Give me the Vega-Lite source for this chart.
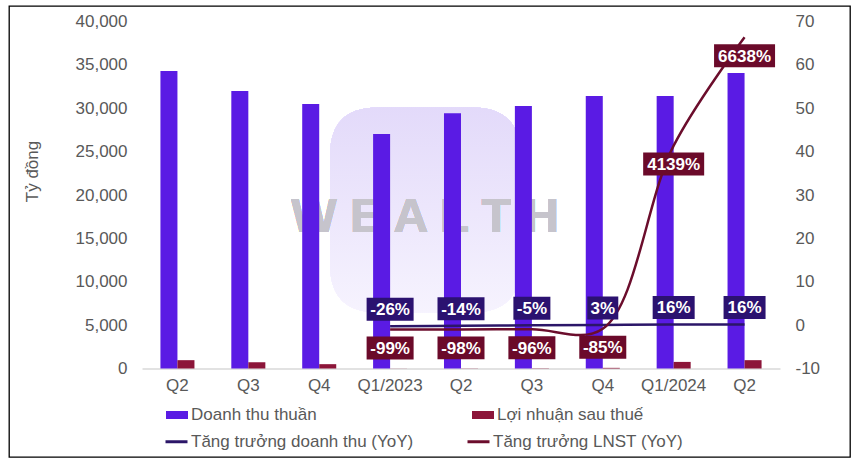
{
  "$schema": "https://vega.github.io/schema/vega-lite/v6.json",
  "width": 841,
  "height": 451,
  "autosize": {"type": "none"},
  "padding": {"left": 9, "top": 6, "right": 12, "bottom": 8},
  "background": "#ffffff",
  "datasets": {
    "bars": [
      {"k": "Q2|2022", "s": "Doanh thu thuần", "v": 34300},
      {"k": "Q2|2022", "s": "Lợi nhuận sau thuế", "v": 960},
      {"k": "Q3|2022", "s": "Doanh thu thuần", "v": 32000},
      {"k": "Q3|2022", "s": "Lợi nhuận sau thuế", "v": 730},
      {"k": "Q4|2022", "s": "Doanh thu thuần", "v": 30500},
      {"k": "Q4|2022", "s": "Lợi nhuận sau thuế", "v": 500},
      {"k": "Q1/2023|", "s": "Doanh thu thuần", "v": 27030},
      {"k": "Q1/2023|", "s": "Lợi nhuận sau thuế", "v": 12},
      {"k": "Q2|2023", "s": "Doanh thu thuần", "v": 29420},
      {"k": "Q2|2023", "s": "Lợi nhuận sau thuế", "v": 20},
      {"k": "Q3|2023", "s": "Doanh thu thuần", "v": 30260},
      {"k": "Q3|2023", "s": "Lợi nhuận sau thuế", "v": 30},
      {"k": "Q4|2023", "s": "Doanh thu thuần", "v": 31420},
      {"k": "Q4|2023", "s": "Lợi nhuận sau thuế", "v": 75},
      {"k": "Q1/2024|", "s": "Doanh thu thuần", "v": 31420},
      {"k": "Q1/2024|", "s": "Lợi nhuận sau thuế", "v": 760},
      {"k": "Q2|2024", "s": "Doanh thu thuần", "v": 34070},
      {"k": "Q2|2024", "s": "Lợi nhuận sau thuế", "v": 960}
    ],
    "growth": [
      {"k": "Q1/2023|", "s": "Tăng trưởng doanh thu (YoY)", "g": -0.26},
      {"k": "Q2|2023", "s": "Tăng trưởng doanh thu (YoY)", "g": -0.14},
      {"k": "Q3|2023", "s": "Tăng trưởng doanh thu (YoY)", "g": -0.05},
      {"k": "Q4|2023", "s": "Tăng trưởng doanh thu (YoY)", "g": 0.03},
      {"k": "Q1/2024|", "s": "Tăng trưởng doanh thu (YoY)", "g": 0.16},
      {"k": "Q2|2024", "s": "Tăng trưởng doanh thu (YoY)", "g": 0.16},
      {"k": "Q1/2023|", "s": "Tăng trưởng LNST (YoY)", "g": -0.99},
      {"k": "Q2|2023", "s": "Tăng trưởng LNST (YoY)", "g": -0.98},
      {"k": "Q3|2023", "s": "Tăng trưởng LNST (YoY)", "g": -0.96},
      {"k": "Q4|2023", "s": "Tăng trưởng LNST (YoY)", "g": -0.85},
      {"k": "Q1/2024|", "s": "Tăng trưởng LNST (YoY)", "g": 41.39},
      {"k": "Q2|2024", "s": "Tăng trưởng LNST (YoY)", "g": 66.38}
    ]
  },
  "encoding": {
    "x": {
      "field": "k",
      "type": "nominal",
      "scale": {
        "type": "band",
        "domain": ["Q2|2022", "Q3|2022", "Q4|2022", "Q1/2023|", "Q2|2023", "Q3|2023", "Q4|2023", "Q1/2024|", "Q2|2024"],
        "range": [133, 771],
        "paddingInner": 0.52,
        "paddingOuter": 0.26
      },
      "axis": {"orient": "bottom", "offset": -88.5, "labelExpr": "split(datum.value,'|')[0]", "title": null, "labelAngle": 0, "labelPadding": 9}
    }
  },
  "layer": [
    {
      "data": {"name": "bars"},
      "layer": [
        {
          "mark": {"type": "point", "filled": true, "opacity": 1, "strokeWidth": 0, "shape": "M-0.5,-1.08H0.5Q1,-1.08 1,-0.58V0.58Q1,1.08 0.5,1.08H-0.5Q-1,1.08 -1,0.58V-0.58Q-1,-1.08 -0.5,-1.08Z", "size": 36100, "xOffset": 35,
            "color": {"gradient": "linear", "x1": 0, "y1": 0, "x2": 0, "y2": 1, "stops": [{"offset": 0, "color": "#E3DAFA"}, {"offset": 1, "color": "#F6F3FE"}]}},
          "encoding": {
            "x": {"datum": "Q1/2023|"},
            "y": {"datum": 18270}
          }
        },
        {
          "mark": {"type": "text", "text": "W E A L T H", "fontSize": 48, "fontWeight": "bold", "color": "#C6C4CC", "opacity": 0.85, "align": "center", "baseline": "middle", "xOffset": 35},
          "encoding": {
            "x": {"datum": "Q1/2023|"},
            "y": {"datum": 17400}
          }
        },
        {
          "mark": {"type": "bar"},
          "encoding": {
            "xOffset": {"field": "s", "type": "nominal", "scale": {"domain": ["Doanh thu thuần", "Lợi nhuận sau thuế"], "paddingInner": 0, "paddingOuter": 0}},
            "y": {
              "field": "v",
              "type": "quantitative",
              "scale": {"domain": [0, 40000], "range": [362.5, 15.5], "nice": false},
              "axis": {"orient": "left", "offset": -133, "values": [0, 5000, 10000, 15000, 20000, 25000, 30000, 35000, 40000], "format": ",d", "labelPadding": 15, "title": "Tỷ đồng", "titleX": -110, "titleY": 165, "titleAngle": -90, "titleAlign": "center", "titleBaseline": "middle"}
            },
            "color": {
              "field": "s",
              "type": "nominal",
              "scale": {"domain": ["Doanh thu thuần", "Lợi nhuận sau thuế"], "range": ["#5A1BE4", "#8C1539"]},
              "legend": {"orient": "none", "legendX": 156, "legendY": 397, "columns": 2, "columnPadding": 154, "title": null, "symbolType": "M-1,-0.364H1V0.364H-1Z", "symbolSize": 484, "labelOffset": 2, "padding": 0, "labelLimit": 400}
            }
          }
        }
      ]
    },
    {
      "data": {"name": "growth"},
      "layer": [
        {
          "mark": {"type": "line", "interpolate": "catmull-rom", "strokeWidth": 2.5},
          "encoding": {
            "y": {
              "field": "g",
              "type": "quantitative",
              "scale": {"domain": [-10, 70], "range": [362.5, 15.5], "nice": false, "zero": false},
              "axis": {"orient": "right", "offset": -70, "values": [-10, 0, 10, 20, 30, 40, 50, 60, 70], "labelPadding": 15, "title": null}
            },
            "color": {
              "field": "s",
              "type": "nominal",
              "scale": {"domain": ["Tăng trưởng doanh thu (YoY)", "Tăng trưởng LNST (YoY)"], "range": ["#2B1668", "#6B0D2C"]},
              "legend": {"orient": "none", "legendX": 155, "legendY": 423, "columns": 2, "columnPadding": 47, "title": null, "symbolType": "stroke", "symbolSize": 484, "symbolStrokeWidth": 3, "labelOffset": 2, "padding": 0, "labelLimit": 400}
            }
          }
        },
        {
          "transform": [{"filter": "datum.s == 'Tăng trưởng doanh thu (YoY)'"}],
          "mark": {"type": "point", "filled": true, "opacity": 1, "color": "#2B1270", "strokeWidth": 0, "yOffset": -17},
          "encoding": {
            "y": {"field": "g", "type": "quantitative", "axis": {"orient": "right", "offset": -70, "values": [-10, 0, 10, 20, 30, 40, 50, 60, 70], "labelPadding": 15, "title": null}},
            "size": {"condition": [
              {"test": "length(format(datum.g,'.0%'))==5", "value": 3721},
              {"test": "length(format(datum.g,'.0%'))==4", "value": 2209},
              {"test": "length(format(datum.g,'.0%'))==3 && datum.g<0", "value": 1369},
              {"test": "length(format(datum.g,'.0%'))==3", "value": 1764}
            ], "value": 961},
            "shape": {"condition": [
              {"test": "length(format(datum.g,'.0%'))==5", "value": "M-1,-0.377H1V0.377H-1Z"},
              {"test": "length(format(datum.g,'.0%'))==4", "value": "M-1,-0.489H1V0.489H-1Z"},
              {"test": "length(format(datum.g,'.0%'))==3 && datum.g<0", "value": "M-1,-0.622H1V0.622H-1Z"},
              {"test": "length(format(datum.g,'.0%'))==3", "value": "M-1,-0.548H1V0.548H-1Z"}
            ], "value": "M-1,-0.742H1V0.742H-1Z"}
          }
        },
        {
          "transform": [{"filter": "datum.s == 'Tăng trưởng doanh thu (YoY)'"}],
          "mark": {"type": "text", "color": "#ffffff", "fontWeight": "bold", "fontSize": 17, "baseline": "middle", "align": "center", "yOffset": -16},
          "encoding": {
            "y": {"field": "g", "type": "quantitative", "axis": {"orient": "right", "offset": -70, "values": [-10, 0, 10, 20, 30, 40, 50, 60, 70], "labelPadding": 15, "title": null}},
            "text": {"field": "g", "type": "quantitative", "format": ".0%"}
          }
        },
        {
          "transform": [{"filter": "datum.s == 'Tăng trưởng LNST (YoY)'"}],
          "mark": {"type": "point", "filled": true, "opacity": 1, "color": "#6B0A2A", "strokeWidth": 0, "yOffset": 18.5},
          "encoding": {
            "y": {"field": "g", "type": "quantitative", "axis": {"orient": "right", "offset": -70, "values": [-10, 0, 10, 20, 30, 40, 50, 60, 70], "labelPadding": 15, "title": null}},
            "size": {"condition": [
              {"test": "length(format(datum.g,'.0%'))==5", "value": 3721},
              {"test": "length(format(datum.g,'.0%'))==4", "value": 2209},
              {"test": "length(format(datum.g,'.0%'))==3 && datum.g<0", "value": 1369},
              {"test": "length(format(datum.g,'.0%'))==3", "value": 1764}
            ], "value": 961},
            "shape": {"condition": [
              {"test": "length(format(datum.g,'.0%'))==5", "value": "M-1,-0.377H1V0.377H-1Z"},
              {"test": "length(format(datum.g,'.0%'))==4", "value": "M-1,-0.489H1V0.489H-1Z"},
              {"test": "length(format(datum.g,'.0%'))==3 && datum.g<0", "value": "M-1,-0.622H1V0.622H-1Z"},
              {"test": "length(format(datum.g,'.0%'))==3", "value": "M-1,-0.548H1V0.548H-1Z"}
            ], "value": "M-1,-0.742H1V0.742H-1Z"}
          }
        },
        {
          "transform": [{"filter": "datum.s == 'Tăng trưởng LNST (YoY)'"}],
          "mark": {"type": "text", "color": "#ffffff", "fontWeight": "bold", "fontSize": 17, "baseline": "middle", "align": "center", "yOffset": 19.5},
          "encoding": {
            "y": {"field": "g", "type": "quantitative", "axis": {"orient": "right", "offset": -70, "values": [-10, 0, 10, 20, 30, 40, 50, 60, 70], "labelPadding": 15, "title": null}},
            "text": {"field": "g", "type": "quantitative", "format": ".0%"}
          }
        }
      ]
    }
  ],
  "resolve": {"scale": {"y": "independent", "color": "independent"}},
  "config": {
    "font": "Liberation Sans",
    "locale": {"number": {"decimal": ".", "thousands": ",", "grouping": [3], "currency": ["$", ""], "minus": "-"}},
    "view": {"stroke": "#000000", "strokeWidth": 1.3},
    "axis": {"labelFont": "Liberation Sans", "labelFontSize": 17, "labelColor": "#595959", "grid": false, "ticks": false, "domain": false, "titleFont": "Liberation Sans", "titleFontSize": 17, "titleColor": "#595959", "titleFontWeight": "normal"},
    "axisBottom": {"domain": true, "domainColor": "#D9D9D9", "domainWidth": 1.3},
    "legend": {"labelFont": "Liberation Sans", "labelFontSize": 17, "labelColor": "#595959", "symbolOpacity": 1}
  }
}
